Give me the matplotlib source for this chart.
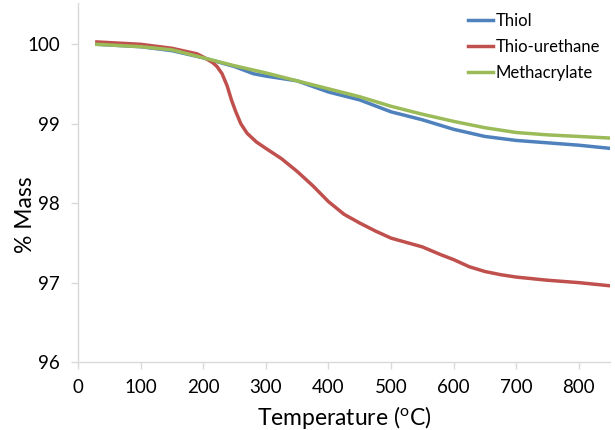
import matplotlib
matplotlib.use("Agg")
import matplotlib.pyplot as plt
import numpy as np

plt.rcParams["font.family"] = ["Lato", "DejaVu Sans"]

# Temperature (C) and mass (%)
thiol_T = [30, 100, 150, 200, 250, 280, 300, 350, 400, 450, 500, 550, 600, 650, 700, 750, 800, 850]
thiol_M = [100.0, 99.97, 99.92, 99.83, 99.72, 99.63, 99.6, 99.54, 99.4, 99.3, 99.15, 99.05, 98.93,
           98.84, 98.79, 98.76, 98.73, 98.69]

urethane_T = [30, 100, 150, 190, 200, 215, 222, 230, 238, 245, 252, 260, 270, 285, 300, 325, 350,
              375, 400, 425, 450, 475, 500, 550, 580, 600, 625, 650, 675, 700, 750, 800, 850]
urethane_M = [100.03, 100.0, 99.95, 99.88, 99.84, 99.77, 99.72, 99.63, 99.48, 99.3, 99.15, 99.0,
              98.88, 98.77, 98.69, 98.56, 98.4, 98.22, 98.02, 97.86, 97.75, 97.65, 97.56, 97.45,
              97.35, 97.29, 97.2, 97.14, 97.1, 97.07, 97.03, 97.0, 96.96]

meth_T = [30, 100, 150, 200, 250, 300, 350, 400, 450, 500, 550, 600, 650, 700, 750, 800, 850]
meth_M = [100.0, 99.97, 99.93, 99.83, 99.73, 99.64, 99.54, 99.44, 99.34, 99.22, 99.12, 99.03, 98.95,
          98.89, 98.86, 98.84, 98.82]

fig = plt.figure(figsize=(6.15, 4.3), dpi=100)
ax = fig.add_axes([0.127, 0.158, 0.865, 0.835])

ax.plot(thiol_T, thiol_M, color="#4F81BD", lw=2.5, label="Thiol")
ax.plot(urethane_T, urethane_M, color="#C0504D", lw=2.5, label="Thio-urethane")
ax.plot(meth_T, meth_M, color="#9BBB59", lw=2.5, label="Methacrylate")

ax.set_xlim(0, 850)
ax.set_ylim(96, 100.52)
ax.set_xticks(np.arange(0, 900, 100))
ax.set_yticks([96, 97, 98, 99, 100])

for s in ["top", "right"]:
    ax.spines[s].set_visible(False)
for s in ["left", "bottom"]:
    ax.spines[s].set_color("#D9D9D9")
    ax.spines[s].set_linewidth(1.0)
ax.tick_params(colors="#D9D9D9", labelcolor="black", labelsize=13.5, length=5, width=1)
ax.tick_params(axis="x", pad=7)
ax.tick_params(axis="y", pad=8)

ax.set_xlabel(r"Temperature ($\mathregular{^o}$C)", fontsize=16.5, labelpad=6)
ax.set_ylabel("% Mass", fontsize=16.5)
ax.yaxis.set_label_coords(-0.08, 0.41)

ax.legend(loc="upper right", frameon=False, fontsize=12, handlelength=1.5, handletextpad=0.15,
          labelspacing=0.6, borderaxespad=0.2, bbox_to_anchor=(1.0, 1.0))

fig.savefig("out.png", dpi=100)
